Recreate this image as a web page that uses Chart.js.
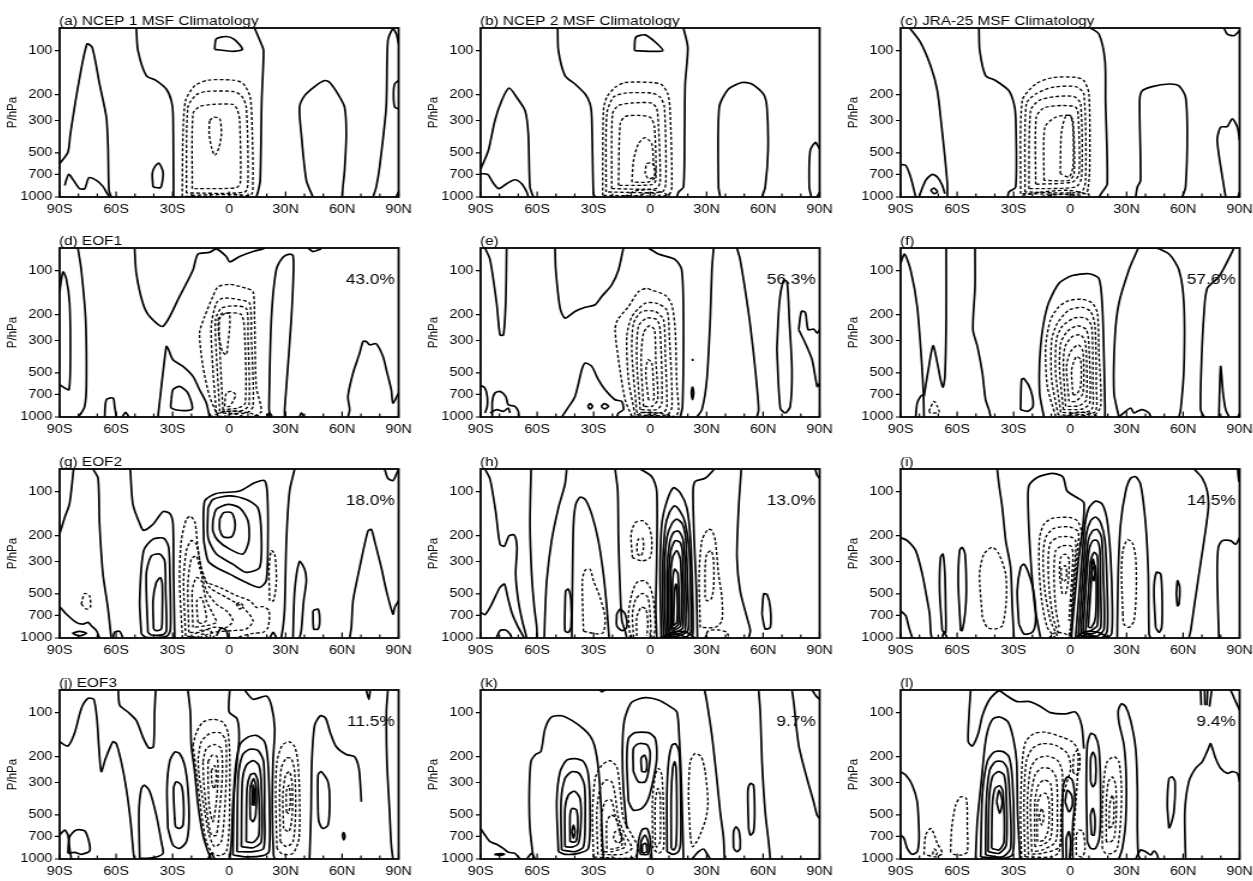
<!DOCTYPE html>
<html><head><meta charset="utf-8">
<script src="https://cdn.jsdelivr.net/npm/chart.js@4.4.1/dist/chart.umd.min.js"></script>
<style>
html,body{margin:0;padding:0;background:#fff;overflow:hidden;width:1253px;height:881px;}
.panel{position:absolute;transform-origin:0 0;transform:scaleX(1.2);}
canvas{display:block;}
</style></head><body>
<script>
// Axis ticks and labels
const latTicks = [-90, -60, -30, 0, 30, 60, 90];
const latLabels = ['90S', '60S', '30S', '0', '30N', '60N', '90N'];
const pressureTicks = [100, 200, 300, 500, 700, 1000];
const panelTitles = ['(a) NCEP 1 MSF Climatology', '(b) NCEP 2 MSF Climatology', '(c) JRA-25 MSF Climatology',
  '(d) EOF1', '(e)', '(f)', '(g) EOF2', '(h)', '(i)', '(j) EOF3', '(k)', '(l)'];
const explainedVariance = ['', '', '', '43.0%', '56.3%', '57.6%', '18.0%', '13.0%', '14.5%', '11.5%', '9.7%', '9.4%'];

// Contour lines as [latitude, pressure hPa] pairs; solid = positive/zero, dashed = negative
const aSolid = [
 [[-90,593],[-85.6,494],[-84.3,370],[-80.3,178],[-75.5,90],[-72.7,95],[-68.8,169],[-65.2,285],[-64.3,456],[-63.8,900],[-62.6,1000]],
 [[-87.3,833],[-85.2,700],[-82.6,770],[-79.4,877],[-76.7,877],[-74.4,738],[-70.5,770],[-67,846],[-64.9,939],[-63.5,1000]],
 [[-49.3,70],[-48.4,100],[-44,148],[-38.7,160],[-33.4,183],[-30.7,219],[-29.8,270],[-29.5,1000]],
 [[-40.4,855],[-40.8,693],[-39.6,624],[-37.3,587],[-35.1,675],[-35.5,790],[-36.5,864],[-40.4,855]],
 [[13.5,70],[17.1,90],[18.3,100],[17.3,219],[16.5,770],[15.3,924],[14.4,1000]],
 [[-7.7,98],[-6.8,83],[-1.5,80],[2.9,84],[7,98],[2,101],[-7.7,98]],
 [[44.5,1000],[41,770],[38.3,370],[37.4,243],[40.1,203],[45.4,176],[50.7,160],[53.4,165],[57.8,198],[61.3,243],[62.2,370],[61.3,658],[60.4,855],[60.1,1000]],
 [[76.4,1000],[78.1,855],[79.9,624],[83.4,243],[84.3,85],[87,71],[88.8,77],[90,90]],
 [[90,160],[87.9,169],[87.3,198],[87.9,243],[90,250]],
 [[88.5,1000],[90,924]]
];
const aDashed = [
 [[-24.9,990],[-24.5,370],[-23.1,219],[-18.3,174],[-11.2,159],[2,159],[7.3,167],[11.2,208],[12.3,370],[12.6,770],[11.2,974],[-24.9,990]],
 [[-22.7,939],[-21.9,243],[-17.4,200],[-12.1,190],[2,190],[6.5,203],[9.1,243],[10,770],[8.3,924],[-22.7,939]],
 [[-19.6,877],[-19.2,270],[-15.7,241],[-8.6,233],[2,233],[4.2,250],[5.6,300],[6,790],[3.8,864],[-17.4,877],[-19.6,877]],
 [[-10.4,300],[-8.2,285],[-5,292],[-4.1,370],[-5.3,456],[-7.6,520],[-9.4,456],[-10.6,370],[-10.4,300]],
 [[-20,975],[-5,960],[5,962],[10,985]]
];

const bSolid = [
 [[-90,650],[-89.5,624],[-85.9,481],[-82.4,300],[-78.8,219],[-74.9,180],[-70.9,208],[-66.4,257],[-64.7,370],[-63.8,855],[-62,1000]],
 [[-90,693],[-86.3,700],[-83.3,803],[-80.3,877],[-76.2,811],[-71.8,762],[-68.2,811],[-65.5,924],[-64.7,1000]],
 [[-49.1,70],[-48.7,100],[-45.2,148],[-39.9,169],[-34.5,198],[-31.9,231],[-31,285],[-30.1,949],[-29.2,1000]],
 [[17.7,70],[20,95],[18.6,169],[18.3,370],[17.7,855],[15.1,924],[14.2,1000]],
 [[-8.3,100],[-7.6,81],[-2.7,78],[3,88],[6.7,100],[0.9,101],[-8.3,100]],
 [[37.2,1000],[36.3,855],[36.7,243],[41.6,183],[48.7,165],[54,169],[60.2,198],[62,243],[62.6,481],[61.1,855],[59.4,1000]],
 [[85.6,1000],[84.5,855],[85,481],[87.7,424],[89.5,456],[90,470]],
 [[88.5,1000],[90,930]]
];
const bDashed = [
 [[-25.2,974],[-24.8,257],[-23,208],[-18.6,178],[-13.3,165],[0.9,165],[6.2,171],[9.4,198],[10.6,257],[11.5,855],[9.4,974],[-25.2,974]],
 [[-23.4,924],[-23,270],[-19.5,208],[-13.3,195],[0.9,195],[5.3,208],[7.6,243],[8.3,811],[6.2,924],[-23.4,924]],
 [[-20.4,877],[-20,270],[-16.8,237],[-9.7,228],[0.9,228],[3.5,250],[4.4,316],[5.3,790],[3,877],[-20.4,877]],
 [[-16.8,833],[-15.9,316],[-13.3,282],[-6.2,277],[0,285],[2.3,333],[3,770],[0.9,824],[-16.8,833]],
 [[-9.7,790],[-8.8,562],[-6.2,433],[-2.7,393],[0.9,433],[1.8,593],[2.7,731],[-0.9,790],[-9.7,790]],
 [[-2.7,693],[-1.8,593],[0.9,587],[3,640],[1.8,731],[-0.9,750],[-2.7,693]],
 [[-13.3,990],[-8,910],[0.9,891],[8,949],[9.8,990]],
 [[-8,990],[-0.9,939],[5.3,974]]
];

const cSolid = [
 [[-85.2,70],[-79.4,88],[-74.1,127],[-70.5,188],[-68.2,333],[-66.5,534],[-65.2,811],[-65.2,1000]],
 [[-90,599],[-87.3,608],[-84.7,731],[-82,1000]],
 [[-80.3,1000],[-76.7,770],[-73.2,700],[-70.5,731],[-67.9,833],[-66.5,949]],
 [[-74.1,900],[-72.3,868],[-70.5,924],[-72.3,949],[-74.1,900]],
 [[-48.4,70],[-48,100],[-44.9,148],[-39.6,160],[-32.5,188],[-29.8,231],[-28.9,285],[-28.9,855],[-32.5,924],[-33.2,1000]],
 [[10.9,70],[15.3,77],[18.5,117],[18.8,219],[19.7,811],[17.1,924],[15.3,1000]],
 [[34.8,1000],[35.7,855],[37.4,770],[36.9,219],[38.3,188],[43.6,176],[52.5,169],[57.8,174],[61.3,208],[62.2,370],[61.3,855],[59.6,1000]],
 [[82.6,1000],[81.7,855],[78.1,411],[79.9,333],[83.4,330],[86.1,292],[88.8,333],[90,411]],
 [[81.7,70],[83.4,77],[87,79],[90,73]],
 [[89.1,1000],[90,924]]
];
const cDashed = [
 [[-26.3,949],[-25.4,219],[-18.3,169],[-9.5,153],[2.9,152],[7.3,160],[10,198],[10.4,624],[9.6,855],[8.2,949],[-26.3,949]],
 [[-24,924],[-23.3,231],[-18.3,198],[-9.5,178],[2.9,176],[7.3,198],[8.2,770],[5.6,924],[-24,924]],
 [[-21.9,877],[-21,257],[-16.5,219],[-7.7,206],[2.1,206],[5.6,231],[6.1,731],[2.9,855],[-21.9,877]],
 [[-18.3,819],[-18,285],[-13.9,246],[-4.2,237],[2.9,243],[4.3,277],[4.7,693],[1.2,790],[-18.3,819]],
 [[-13.9,770],[-13.4,333],[-7.7,285],[-0.6,277],[1.5,300],[2.1,693],[-0.6,770],[-13.9,770]],
 [[-5.2,693],[-4.7,370],[-2.6,285],[0.1,277],[1.5,333],[1.5,624],[-0.6,731],[-5.2,693]],
 [[-25.4,974],[-14.8,924],[-0.6,900],[10,959]],
 [[-18.3,1000],[-3.9,959],[6.5,990]]
];

const dSolid = [
 [[-90,142],[-89.5,125],[-88.2,102],[-86.5,113],[-84.7,167],[-84.3,406],[-85,651],[-87.3,634],[-90,602]],
 [[-80.3,70],[-78.5,99],[-76.2,216],[-75.8,618],[-76.7,846],[-78.5,939],[-80.3,1000]],
 [[-66.1,1000],[-65.2,762],[-61.6,742],[-60.8,846],[-59.9,1000]],
 [[-56.7,1000],[-55,929],[-53.2,1000]],
 [[-50.2,70],[-49.3,104],[-45.8,167],[-42.2,206],[-35.1,240],[-26.3,150],[-19.2,99],[-16.5,77],[-10.4,75],[-6.8,71],[-1.5,80],[0.3,87],[5.6,80],[12.7,74],[18,71],[18.8,70]],
 [[-37.8,1000],[-33.4,330],[-32.5,339],[-29.8,406],[-24.5,451],[-19.2,528],[-15.7,651],[-12.1,803],[-10.4,1000]],
 [[-30.7,762],[-29.8,651],[-26.3,618],[-21.9,686],[-19.6,882],[-24.5,905],[-30.7,868],[-30.7,762]],
 [[21.5,1000],[21.2,846],[22.4,216],[25,99],[28.6,81],[32.1,77],[33.9,79],[34.2,99],[33,216],[30.4,618],[29.5,891],[29.5,1000]],
 [[19.7,1000],[21.5,935],[22.9,1000]],
 [[37.4,1000],[38.3,935],[39.8,1000]],
 [[63.1,1000],[64,891],[63.1,723],[65.8,500],[69.3,366],[71.1,305],[72.8,305],[74.6,321],[78.1,316],[81.7,386],[83.5,476],[86.1,651],[87,803],[90,686]],
 [[41.9,70],[44.5,74],[48.9,71]]
];
const dDashed = [
 [[-5.9,990],[-10.4,723],[-13.9,451],[-15.7,267],[-13,206],[-8.6,150],[-5.9,129],[0.3,124],[9.1,132],[12.7,139],[13.5,216],[14.4,618],[17.1,915],[12.7,990],[-5.9,990]],
 [[-6.8,939],[-8.6,476],[-9.5,240],[-6.8,167],[-3.3,154],[5.6,158],[10.9,167],[11.8,282],[12.7,846],[9.1,939],[-6.8,939]],
 [[-5,915],[-6.8,366],[-7.2,216],[-4.2,181],[2,174],[9.1,181],[10,282],[10.6,824],[7.3,900],[-5,915]],
 [[-3.3,891],[-5,330],[-5,212],[-1.5,195],[6.5,200],[8.3,282],[8.6,803],[4.7,868],[-3.3,891]],
 [[-5.9,216],[-3.6,195],[0,198],[0.3,240],[-0.6,313],[-1.5,376],[-3.6,356],[-5.4,282],[-5.9,216]],
 [[-2.4,846],[-1.5,686],[1.2,668],[3.5,704],[2,782],[0.3,846],[-2.4,846]],
 [[-10.4,1000],[-1.5,915],[9.1,929],[18,1000]],
 [[-3.3,1000],[2,949],[7.3,990]]
];

const eSolid = [
 [[-87.7,70],[-85,84],[-81.5,167],[-79.7,275],[-77.9,275],[-76.7,167],[-76.2,70]],
 [[-90,608],[-87.7,634],[-86.5,723],[-86.5,846],[-87.7,939]],
 [[-83.8,1000],[-83.8,782],[-82.4,686],[-79.7,668],[-76.7,723],[-75.3,824],[-71.8,846],[-70,915],[-69.6,1000]],
 [[-85,939],[-81.5,891],[-77.9,915],[-75.3,868],[-74.4,939]],
 [[-50.5,70],[-50.1,99],[-47.8,181],[-45.2,211],[-39.9,190],[-34.5,178],[-29.2,171],[-25.7,150],[-20.4,125],[-16.8,99],[-14.2,70]],
 [[-0.9,70],[4.4,77],[13.3,84],[16.8,99],[17.7,216],[17.2,846],[16,1000]],
 [[-46.9,1000],[-44.3,891],[-39.9,723],[-36.3,476],[-34.5,428],[-31,451],[-27.5,556],[-23.9,651],[-18.6,762],[-15.1,782],[-14.2,891],[-16.8,939],[-17.7,1000]],
 [[-33.1,846],[-31.9,811],[-30.6,846],[-31.9,882],[-33.1,846]],
 [[-26,846],[-24.3,811],[-22.1,846],[-24.3,882],[-26,846]],
 [[24.8,1000],[27.5,891],[30.1,556],[31.9,216],[32.8,99],[33.7,70]],
 [[46.1,70],[47.8,84],[52.3,195],[54.9,366],[56.7,618],[57.6,891],[56.7,1000]],
 [[67.3,344],[68.6,167],[70.9,116],[72.7,119],[73.9,216],[75.3,476],[74.4,846],[71.8,939],[69.1,868],[67.3,344]],
 [[78.9,253],[80.3,190],[82.4,193],[83.9,253],[86.9,251],[88.7,267],[90,253]],
 [[78.9,253],[82.4,313],[86,406],[88.7,618],[90,587]],
 [[22.5,620],[23.1,680],[22.5,760],[21.9,680],[22.5,620]],
 [[22.5,400],[22.6,414]]
];
const eDashed = [
 [[-9.7,990],[-13.3,762],[-16.8,406],[-18.6,253],[-17.2,216],[-11.5,176],[-6.2,139],[-1.8,132],[0.9,136],[8,147],[11.5,171],[13.3,253],[14.2,618],[15.1,891],[13.3,990],[-9.7,990]],
 [[-8,968],[-11.5,556],[-12.4,282],[-9.7,206],[-2.7,167],[3.5,167],[8.9,186],[10.2,282],[11.6,846],[8.9,968],[-8,968]],
 [[-7.1,929],[-9.7,366],[-8.8,229],[-4.4,190],[2.7,190],[7.1,216],[8,366],[8.9,846],[7.1,929],[-7.1,929]],
 [[-5.3,891],[-7.1,406],[-6.2,240],[-1.8,211],[3.5,216],[5.3,253],[6.2,803],[3.5,891],[-5.3,891]],
 [[-3.5,846],[-4.8,406],[-3.5,267],[-0.5,238],[2.3,253],[3,406],[4,762],[0.9,846],[-3.5,846]],
 [[-0.9,762],[-2.3,500],[-1.2,406],[0.9,428],[1.8,618],[1.8,762],[-0.9,762]],
 [[-9.7,1000],[-2.7,929],[6.2,949],[13.3,1000]],
 [[-4.4,1000],[0.9,959],[6.2,1000]]
];

const fSolid = [
 [[-90,89],[-87.9,77],[-84.7,99],[-81.2,176],[-78.8,428],[-77.9,686],[-77.6,1000]],
 [[-82,1000],[-81.2,803],[-79.4,723],[-78.1,704]],
 [[-77.6,723],[-75.3,476],[-72.8,326],[-70.5,428],[-68.8,556],[-67.5,624],[-66.5,528],[-65.8,216],[-65.8,70]],
 [[-50.5,70],[-50.5,129],[-51.6,253],[-49.2,330],[-46.6,500],[-44.9,762],[-43.1,891],[-42.2,1000]],
 [[-26.3,891],[-25.8,556],[-24.5,545],[-21,651],[-19.7,846],[-22.7,915],[-26.3,891]],
 [[-13.9,1000],[-16.2,686],[-15.7,330],[-12.1,176],[-5.9,122],[1.2,108],[10,105],[15.3,113],[17.1,176],[18,406],[18.5,846],[18.5,1000]],
 [[25.9,1000],[23.3,686],[23.8,282],[25.9,167],[31.2,99],[34.8,77],[36.6,70],[45.4,70],[52.5,77],[57.8,99],[60.4,167],[60.4,476],[58.7,891],[57.8,1000]],
 [[25.9,1000],[29.5,915],[32.1,868],[33.9,939],[35.7,915],[38.3,891],[41.9,939],[42.8,1000]],
 [[87,70],[84.4,82],[79,110],[72.8,132],[71.1,195],[69.8,406],[69.3,891],[71.1,1000]],
 [[79,1000],[79.9,451],[81.2,686],[82.6,891],[84.4,1000]],
 [[89,1000],[90,950]]
];
const fDashed = [
 [[-75,915],[-72.3,782],[-70.5,846],[-69.6,929],[-74,939],[-75,915]],
 [[-7.7,990],[-12.1,618],[-13,330],[-10.4,216],[-5.9,176],[-0.6,160],[6.5,157],[11.8,167],[14.5,195],[15.3,366],[16.2,846],[11.8,990],[-7.7,990]],
 [[-6.3,968],[-9.8,556],[-9.8,297],[-6.8,229],[-0.6,186],[6.5,178],[10.9,190],[13.2,240],[13.9,618],[13.5,915],[6.5,968],[-6.3,968]],
 [[-5,929],[-7.7,500],[-7.3,297],[-4.2,240],[2.1,211],[8.2,211],[11.4,240],[12.1,618],[11.4,891],[2.9,939],[-5,929]],
 [[-3.6,891],[-5.6,476],[-5,313],[-1.5,260],[3.8,238],[8.6,253],[10,330],[10.4,803],[6.5,882],[-3.6,891]],
 [[-2.4,846],[-3.6,451],[-2.7,330],[1.2,282],[5.6,275],[8.2,313],[8.6,762],[4.7,837],[-2.4,846]],
 [[-0.6,782],[-1.9,451],[0.3,356],[4.3,321],[6.8,356],[6.8,686],[2.9,782],[-0.6,782]],
 [[1.5,704],[0.8,476],[3.3,386],[5.6,406],[5.6,618],[3.3,704],[1.5,704]],
 [[-2.4,1000],[2.9,929],[10,939],[15.3,1000]],
 [[0.3,1000],[4.7,959],[10,1000]]
];

const gSolid = [
 [[-90,195],[-87.3,150],[-84.7,120],[-82.6,70]],
 [[-72.3,70],[-69.6,81],[-68.8,167],[-67,366],[-64.4,618],[-62.6,1000]],
 [[-90,611],[-86.5,686],[-81.2,782],[-77.6,803],[-74.9,782],[-73.2,824],[-70.5,891],[-68.8,1000]],
 [[-83.3,929],[-79.4,900],[-75.8,929],[-79.4,968],[-83.3,929]],
 [[-61.7,1000],[-60.8,915],[-58.1,900],[-56.4,1000]],
 [[-52.5,70],[-51.1,122],[-47.5,165],[-45.4,184],[-40.4,167],[-35.1,137],[-31.5,141],[-29.8,167],[-29.5,366],[-28.9,1000]],
 [[-46.6,939],[-47.5,562],[-45.4,253],[-40.4,211],[-34.7,208],[-32.1,240],[-31.4,406],[-31.2,880],[-33.3,975],[-44,990],[-46.6,939]],
 [[-43.1,915],[-44,366],[-41.3,275],[-36.9,267],[-34.2,297],[-33.7,476],[-33.3,891],[-35.1,949],[-41.3,954],[-43.1,915]],
 [[-40.1,868],[-40.4,556],[-38.7,418],[-36.5,386],[-35.5,428],[-35.5,686],[-36,868],[-38.7,891],[-40.1,868]],
 [[-13.5,216],[-13,116],[-6.8,103],[5.6,99],[13.5,87],[18.8,84],[20.3,104],[20.6,216],[19.7,406],[16.2,451],[9.1,418],[0.3,366],[-6.8,330],[-11.2,297],[-13.5,216]],
 [[-11.2,129],[-8.6,113],[0.3,107],[9.1,113],[15.3,129],[17.1,195],[16.2,330],[9.1,356],[2,313],[-6.8,267],[-11.2,206],[-11.2,129]],
 [[-8.6,158],[-6.8,132],[-0.6,122],[5.6,129],[10,158],[10.5,216],[7.3,267],[0.3,247],[-5.9,216],[-8.6,186],[-8.6,158]],
 [[-5,154],[-2.9,139],[1.2,139],[3,158],[3,181],[1.2,204],[-2.9,204],[-5,181],[-5,154]],
 [[-6.8,968],[-4.2,855],[-1.5,891],[-0.6,990]],
 [[34.8,70],[32.1,99],[30.4,216],[29.5,618],[28.6,846],[27.7,990]],
 [[33.9,1000],[34.8,476],[37.4,300],[40.1,339],[41,406],[39.6,556],[38.3,891],[37.4,1000]],
 [[44.5,651],[47.2,634],[48.1,762],[47.2,868],[44.9,868],[44.5,651]],
 [[64,1000],[64.9,846],[65.8,556],[69.3,330],[73.7,186],[75.5,181],[77.2,216],[80.8,330],[83.5,476],[87,686],[87.9,618],[90,556]],
 [[82.6,70],[84.3,81],[87,84],[90,70]],
 [[21.6,1000],[23.4,915],[25.2,1000]]
];
const gDashed = [
 [[-78.5,587],[-76.7,496],[-74.1,514],[-73.7,618],[-75.8,634],[-78.5,587]],
 [[-24.8,1000],[-26.3,406],[-25.4,216],[-22.7,154],[-20.5,147],[-18.1,163],[-16.4,253],[-12.8,406],[-4.9,451],[4,514],[11,556],[14.5,618],[18,611],[21.2,651],[20.7,846],[18,915],[12.7,929],[5.6,979],[2,1000]],
 [[-23.1,968],[-24.2,406],[-22.7,253],[-20.1,216],[-17.4,229],[-14.8,330],[-10.4,451],[-1.5,528],[7.3,618],[12.7,762],[9.1,868],[2,891],[-8.6,915],[-15.7,990],[-23.1,968]],
 [[-21.4,915],[-21.9,428],[-20.1,289],[-17.4,275],[-15.7,330],[-12.1,476],[-6.8,587],[-1.5,651],[2,762],[-1.5,846],[-8.6,846],[-15.7,915],[-21.4,915]],
 [[-19.2,846],[-19.6,476],[-17.4,386],[-14.8,406],[-12.1,556],[-8.6,686],[-6.8,782],[-12.1,824],[-19.2,846]],
 [[-16.6,782],[-17.1,556],[-14.8,528],[-13,618],[-12.1,762],[-14.8,794],[-16.6,782]],
 [[3.8,587],[5.6,571],[7.3,602],[5.6,634],[3.8,587]],
 [[21.5,556],[21.2,330],[22.4,253],[24.2,267],[25.1,406],[23.6,556],[21.5,556]],
 [[-20.1,1000],[-15.7,891],[-10.4,882],[-7.7,1000]],
 [[-17.4,1000],[-13.9,939],[-11.2,1000]]
];

const hSolid = [
 [[-87.7,70],[-85,82],[-82,137],[-79.7,229],[-77.4,236],[-74.9,200],[-72.1,198],[-70.7,240],[-71.4,366],[-70,556],[-67.9,762],[-65.5,1000]],
 [[-90,668],[-87.7,693],[-85,618],[-82.4,528],[-79.7,451],[-77.4,428],[-75.6,528],[-73.2,686],[-70,846],[-66.8,1000]],
 [[-81.5,990],[-79.7,891],[-76.7,882],[-74.4,939],[-73.5,1000]],
 [[-63.2,70],[-63.8,167],[-62.9,366],[-61.5,618],[-60.2,846],[-60.2,1000]],
 [[-44.3,70],[-45.2,89],[-48.7,129],[-52.3,216],[-54.9,406],[-55.8,686],[-56.2,1000]],
 [[-41.6,1000],[-41.2,366],[-40.7,167],[-39.5,122],[-37.2,109],[-34.5,113],[-31,143],[-27.5,216],[-24.8,366],[-23,618],[-22.1,891],[-21.8,1000]],
 [[-45.2,618],[-44.8,476],[-43.4,464],[-42,556],[-42,846],[-43.4,915],[-45.2,891],[-45.2,618]],
 [[-18.6,70],[-17.2,99],[-16.8,216],[-15.9,476],[-15,762],[-13.3,891],[-12.4,1000]],
 [[-17.7,686],[-15.9,634],[-13.3,686],[-12.4,846],[-15,891],[-17.7,824],[-17.7,686]],
 [[-5.3,70],[0.9,79],[3.5,99],[3.5,282],[3,618],[3.5,1000]],
 [[5.9,1000],[5.3,366],[6.2,167],[8.9,116],[12.4,94],[16,102],[19.5,129],[21.5,216],[22.5,476],[22.8,891],[22.3,1000]],
 [[7.1,990],[6.6,366],[8,176],[10.2,139],[13,125],[16,137],[18.6,163],[20.8,253],[21.6,528],[21.6,915],[18.6,990],[7.1,990]],
 [[8.3,968],[7.6,366],[8.9,206],[11.6,165],[14.2,154],[17.2,167],[19,216],[20.1,528],[20.1,891],[15.1,968],[8.3,968]],
 [[9.4,939],[8.9,366],[10.2,229],[12.4,190],[15.1,186],[17.4,211],[18.6,330],[18.6,891],[14.2,939],[9.4,939]],
 [[10.1,915],[9.8,406],[11,253],[13.3,216],[16,223],[17.2,267],[17.4,846],[13.3,915],[10.1,915]],
 [[11.2,891],[10.8,406],[11.9,282],[14.2,253],[16.2,297],[16.2,824],[12.4,891],[11.2,891]],
 [[11.9,868],[11.9,428],[13,339],[14.8,366],[15.1,803],[12.4,868],[11.9,868]],
 [[12.4,824],[13,476],[13.7,428],[14.4,500],[14.2,782],[12.4,824]],
 [[5.9,1000],[11.6,915],[18.6,905],[23.9,1000]],
 [[7.1,1000],[13.3,939],[20.4,1000]],
 [[34.2,70],[29.2,81],[24,85],[22.8,99],[23.4,216],[24.6,476],[25.1,1000]],
 [[48.4,70],[47,129],[46.1,282],[47.8,476],[51.4,723],[53.2,891],[52.3,1000]],
 [[59.4,686],[60.3,500],[62.1,505],[63.8,618],[63.8,846],[61.1,868],[59.4,686]],
 [[87.7,70],[88.6,77],[90,81]]
];
const hDashed = [
 [[-9.4,282],[-10.1,195],[-7.9,163],[-4,158],[-0.5,176],[0.9,216],[0,282],[-4.4,297],[-9.4,282]],
 [[-7.1,235],[-6.2,211],[-4,208],[-3.5,240],[-4.8,275],[-6.6,267],[-7.1,235]],
 [[-10.6,1000],[-11.5,686],[-9.7,500],[-7.1,418],[-3,406],[0,451],[1.8,556],[2.7,846],[1.8,1000]],
 [[-8.8,990],[-9.4,686],[-7.6,542],[-4,496],[-1.2,528],[0,686],[0.5,990]],
 [[-7.1,968],[-7.1,723],[-4.8,618],[-2.3,634],[-1.2,803],[-1.8,968]],
 [[-35.4,900],[-36,406],[-34.5,344],[-31.9,339],[-30.1,406],[-26.6,528],[-23.9,723],[-24.8,915],[-27.5,939],[-35.4,900]],
 [[26.6,846],[26,366],[27.5,216],[30.7,181],[32.8,184],[34.6,216],[36.3,366],[38.1,528],[38.1,762],[34.6,846],[26.6,846]],
 [[29.2,528],[29.2,330],[30.1,267],[32.4,253],[33.7,297],[33.7,451],[32.4,542],[30.1,556],[29.2,528]],
 [[29.2,1000],[31,891],[36.3,882],[40.8,915],[41.7,1000]]
];

const iSolid = [
 [[-90,206],[-86.5,216],[-82,253],[-78.5,366],[-75.8,556],[-74.6,686],[-74,915],[-73.5,1000]],
 [[-90,651],[-87.3,704],[-85.6,846],[-83.8,1000]],
 [[-67.9,891],[-69.3,476],[-68.8,282],[-67.5,267],[-66.5,366],[-66.1,618],[-66.1,915],[-67.9,891]],
 [[-58.1,891],[-59.4,428],[-58.7,253],[-57.3,240],[-55.8,267],[-55.1,476],[-55.8,686],[-57.3,891],[-58.1,891]],
 [[-67.9,1000],[-67,915],[-65.2,1000]],
 [[-38.7,70],[-37.8,89],[-36,129],[-34.2,216],[-31.6,330],[-30.7,618],[-29.8,1000]],
 [[-27.2,803],[-28.1,476],[-26.3,330],[-24.5,313],[-21.9,366],[-19.2,500],[-18.3,762],[-20.1,915],[-24.5,939],[-27.2,803]],
 [[-15.7,1000],[-18.7,618],[-21,282],[-22.3,129],[-21.9,91],[-17.5,80],[-9.6,75],[-3.9,79],[-1.6,99],[3.8,110],[7.3,119],[6.7,176],[4.6,282],[2.8,476],[1.1,846],[0.7,1000]],
 [[2.9,1000],[5.6,366],[7.9,167],[10,129],[13.5,116],[17.1,122],[19.7,158],[21.5,282],[22.4,618],[22,939],[19.7,1000]],
 [[4.3,990],[6.8,366],[8.6,195],[10.9,158],[13.5,149],[16.2,163],[18.5,216],[19.7,476],[19.7,891],[17.1,990],[4.3,990]],
 [[5.6,968],[7.9,366],[9.6,216],[11.8,186],[14.4,181],[16.7,206],[17.6,366],[18,868],[14.4,968],[5.6,968]],
 [[6.8,939],[8.6,406],[10,253],[12.1,216],[14.4,216],[15.8,253],[16.2,476],[16.2,846],[12.7,929],[6.8,939]],
 [[8.2,915],[10,428],[10.9,297],[12.7,260],[14.4,275],[15,476],[14.4,824],[10.9,891],[8.2,915]],
 [[9.6,846],[10.9,476],[11.8,344],[13.2,321],[13.9,406],[13.5,723],[11.4,846],[9.6,846]],
 [[11.4,366],[12.1,289],[13.2,330],[12.7,406],[11.4,366]],
 [[2.9,1000],[8.2,905],[15,915],[20.5,1000]],
 [[4.5,1000],[9.5,940],[15,1000]],
 [[25,1000],[25.5,366],[26.8,167],[29.5,99],[32.1,81],[34.8,79],[37.4,89],[40.1,167],[41.5,366],[41.9,939],[42.7,1000]],
 [[45.4,846],[44.5,476],[45.8,356],[48.1,366],[48.9,556],[48.6,846],[47.2,915],[45.4,846]],
 [[56.4,500],[57,406],[58.2,451],[57.8,587],[57,602],[56.4,500]],
 [[65.8,70],[70.2,81],[72.8,99],[73.4,129],[71.1,216],[68.4,366],[65.8,618],[64,891],[63.1,1000]],
 [[79,1000],[78.1,366],[78.7,240],[80.8,216],[85.2,216],[87.9,229],[90,206]],
 [[89,70],[89.5,85],[90,70]]
];
const iDashed = [
 [[-7.7,1000],[-12.1,846],[-15.1,556],[-16.5,330],[-16.2,206],[-13.9,167],[-9.5,152],[-0.6,150],[3.8,158],[6.1,190],[4.3,282],[2,476],[0.8,846],[0.3,1000]],
 [[-6.8,968],[-10.4,762],[-13.4,476],[-14.4,282],[-13,206],[-8.6,178],[-0.6,174],[4.3,188],[3.8,253],[2,406],[0.8,762],[-0.6,968]],
 [[-6.3,929],[-9.1,723],[-11.2,451],[-11.6,282],[-10.4,223],[-5.9,204],[0.3,204],[2.9,216],[2.6,297],[1.2,476],[0.3,891]],
 [[-5.9,846],[-7.7,618],[-8.6,366],[-7.7,253],[-4.5,235],[0.3,235],[1.5,267],[0.8,406],[-0.6,762]],
 [[-4.2,500],[-5.6,366],[-5,282],[-2.7,267],[-0.6,289],[-1,406],[-2.4,496],[-4.2,500]],
 [[-4.2,406],[-4.8,340],[-2.7,320],[-1.8,360],[-2.7,406],[-4.2,406]],
 [[-11.2,1000],[-7.7,915],[-2.4,939],[-0.6,1000]],
 [[-46.6,723],[-48.1,366],[-45.8,267],[-41.3,240],[-37.8,267],[-34.2,366],[-33.9,556],[-36,824],[-39.6,868],[-44,846],[-46.6,723]],
 [[28,686],[27.3,366],[28,253],[30.4,213],[33,223],[34.8,282],[35.1,476],[33.9,762],[31.2,846],[28.5,803],[28,686]]
];

const jSolid = [
 [[-90,158],[-85.6,169],[-82,137],[-78.5,94],[-75,80],[-71.9,81],[-70.2,110],[-69.1,176],[-67.9,253],[-65.6,206],[-61.7,158],[-59.9,163],[-57.3,216],[-54.6,330],[-52.3,556],[-50.7,939],[-50.2,1000]],
 [[-58.9,70],[-58.1,89],[-53.7,99],[-49.3,113],[-45.8,147],[-42.7,174],[-40.2,171],[-39.6,99],[-39,70]],
 [[-47.5,990],[-47.9,476],[-46.6,330],[-44.9,313],[-42.2,344],[-38.7,500],[-36,762],[-35.1,915],[-38.7,968],[-44,990],[-47.5,990]],
 [[-32.5,618],[-33,330],[-31.6,216],[-28.9,186],[-26.3,190],[-23.6,229],[-21.9,330],[-21.3,556],[-22.7,762],[-26.3,846],[-29.8,803],[-32.5,618]],
 [[-28.9,528],[-29.5,330],[-28.1,297],[-25.4,313],[-24.2,406],[-24.5,587],[-26.3,618],[-28.4,602],[-28.9,528]],
 [[-85.6,915],[-84.7,704],[-81.2,634],[-76.7,643],[-74.4,762],[-74.1,882],[-78.5,929],[-82,900],[-85.6,915]],
 [[-90,686],[-87.3,634],[-85.6,686],[-84.7,846],[-83.8,1000]],
 [[-21.9,70],[-20.6,99],[-20.1,167],[-18.3,253],[-16.5,428],[-13.9,686],[-11.2,891],[-9.5,1000]],
 [[0.3,70],[0,99],[4.2,110],[5.3,150],[3.8,240],[2,428],[1.2,762],[0.3,1000]],
 [[8.2,70],[12.7,81],[19.7,77],[22.4,89],[24.2,129],[23.3,216],[22.9,476],[23.6,939],[24.2,1000]],
 [[2,939],[2.9,282],[5.6,167],[10,147],[14.4,143],[18.8,158],[20.6,216],[21.5,476],[21.2,891],[18,949],[9.1,968],[2,939]],
 [[4.2,891],[4.8,282],[7.1,195],[10.9,178],[15.3,181],[18.3,216],[18.8,476],[18.3,846],[12.7,891],[4.2,891]],
 [[6.5,824],[7,297],[9.1,229],[12.7,213],[15.8,229],[17.1,313],[17.1,762],[12.7,837],[6.5,824]],
 [[9.1,762],[9.5,330],[11.2,267],[13.5,260],[15.3,297],[15.8,686],[12.7,770],[9.1,762]],
 [[11.2,528],[11.2,330],[13,282],[14.4,330],[14.1,500],[12.7,556],[11.2,528]],
 [[12.3,428],[12.7,313],[13.5,344],[13.2,428],[12.3,428]],
 [[42.7,1000],[43.5,476],[43.9,216],[45.4,122],[48.4,105],[51.2,109],[53.7,137],[56.9,171],[62.2,193],[66.6,200],[68.9,240],[69.8,330],[70.2,406]],
 [[72.8,70],[74.2,81],[74.9,70]],
 [[84.3,70],[83.5,99],[83.8,216],[85.2,476],[86.1,803],[87,1000]],
 [[47.2,476],[47.2,267],[48.9,253],[52.5,297],[53.4,406],[52.5,587],[49.8,618],[47.7,556],[47.2,476]],
 [[60.1,686],[60.8,660],[61.5,700],[60.8,740],[60.1,686]],
 [[-11.2,1000],[-9.5,915],[-7.7,1000]]
];
const jDashed = [
 [[-19.2,167],[-17.4,137],[-13.9,116],[-8.6,111],[-3.3,116],[-0.6,137],[0.3,195],[0.3,366],[0,618],[-1.5,891],[-5,949],[-8.6,915],[-12.1,762],[-14.8,476],[-17.4,253],[-19.2,167]],
 [[-16.5,206],[-14.8,158],[-10.4,139],[-5,137],[-1.9,154],[-1.5,253],[-2.4,476],[-4.2,762],[-7.7,824],[-10.6,686],[-13.5,428],[-16,267],[-16.5,206]],
 [[-13.9,216],[-12.1,176],[-7.7,165],[-4.2,176],[-3.6,267],[-5,451],[-6.8,686],[-9.5,686],[-11.8,476],[-13.5,297],[-13.9,216]],
 [[-11.2,216],[-8.9,195],[-6.4,200],[-5.9,282],[-6.8,406],[-8.6,556],[-10.4,451],[-11.2,297],[-11.2,216]],
 [[-9.5,250],[-7.7,230],[-6.8,270],[-7.7,330],[-9,310],[-9.5,250]],
 [[25.4,846],[24.7,366],[25.4,216],[28.2,167],[31.8,158],[34.8,171],[36.5,216],[37.4,366],[37.1,723],[33.9,915],[28.5,929],[25.4,846]],
 [[27.2,762],[26.8,366],[27.7,240],[30.4,204],[33,206],[34.8,253],[35.3,476],[33.9,762],[30.4,824],[27.2,762]],
 [[28.9,618],[28.5,366],[30,267],[32.1,253],[33.5,313],[33.5,500],[31.8,651],[28.9,618]],
 [[30.4,476],[30.4,344],[31.8,313],[32.5,406],[31.5,488],[30.4,476]]
];

const kSolid = [
 [[-90,618],[-87.7,686],[-85,762],[-81.5,794],[-78,846],[-75.3,900],[-71.8,915],[-69.1,1000]],
 [[-82.7,929],[-79.7,920],[-77.4,929],[-79.7,945],[-82.7,929]],
 [[-65.5,1000],[-62.9,915],[-61.1,1000]],
 [[-62,1000],[-63.8,618],[-64.2,366],[-63.3,216],[-60.8,193],[-58,184],[-55.8,129],[-52.3,107],[-46.9,105],[-41.6,113],[-35.4,129],[-31.9,144],[-29.6,167],[-27.5,240],[-26.1,428],[-25.3,762],[-24.8,1000]],
 [[-48.7,891],[-49.6,406],[-47.8,253],[-44.3,211],[-39.9,206],[-35.4,216],[-32.8,267],[-31.9,476],[-32.8,846],[-38.1,915],[-45.2,929],[-48.7,891]],
 [[-47,868],[-47.3,406],[-45.2,282],[-41.6,253],[-37.7,260],[-34.9,313],[-34.5,528],[-35.4,824],[-39.9,891],[-47,868]],
 [[-45.2,824],[-45.2,451],[-43.4,366],[-40.2,344],[-37.2,386],[-36.7,556],[-38.1,782],[-41.6,829],[-45.2,824]],
 [[-42.5,762],[-42.5,500],[-41.3,451],[-39,464],[-38.4,618],[-39.5,762],[-42.5,762]],
 [[-41.6,651],[-40.7,587],[-39.9,651],[-40.7,723],[-41.6,651]],
 [[-12.4,618],[-14.2,330],[-14.7,176],[-13.7,113],[-9.8,85],[-2.7,79],[4.4,82],[10.6,91],[14.2,99],[15.4,143],[16.5,282],[17.2,556],[17.7,1000]],
 [[-11.5,406],[-12.4,216],[-11.5,150],[-8,137],[-0.9,137],[2.7,150],[3.5,206],[1.8,282],[-0.9,386],[-4.4,451],[-8.9,464],[-11.5,406]],
 [[-8.9,253],[-8.9,176],[-6.2,163],[-1.8,165],[0,186],[-0.9,253],[-2.7,297],[-6.2,297],[-8.9,253]],
 [[-4.4,253],[-4.8,206],[-3,195],[-1.8,216],[-2.3,253],[-4.4,253]],
 [[9,891],[8.9,366],[9.8,216],[11.6,167],[13.5,163],[15.4,186],[16.2,366],[16.2,762],[15,891],[12,929],[9,891]],
 [[11.2,846],[11.2,366],[12,240],[13,216],[13.8,240],[14.2,476],[13.8,803],[12.5,868],[11.2,846]],
 [[-7.1,1000],[-6.2,762],[-4.4,634],[-1.8,618],[0,723],[0.9,1000]],
 [[-5.3,929],[-4.8,762],[-2.7,686],[-0.9,782],[-1.2,929],[-5.3,929]],
 [[-4.1,915],[-4.1,803],[-2.3,782],[-1.8,891],[-4.1,915]],
 [[22.2,1000],[25.7,891],[28.4,855],[30.1,915],[31.9,1000]],
 [[28.9,70],[30.1,84],[32.8,143],[35.4,282],[37.2,476],[39,723],[39.5,1000]],
 [[44.3,846],[44.3,651],[45.6,602],[47.3,651],[47.8,846],[46.1,891],[44.3,846]],
 [[52.3,618],[51.9,344],[53.2,305],[54.9,313],[55.5,476],[54.9,651],[53.2,686],[52.3,618]],
 [[57.6,70],[58.5,99],[59.4,216],[61.1,476],[62.9,762],[63.8,1000]],
 [[75.3,70],[76.2,84],[78.9,167],[83.3,282],[86.8,406],[88.6,500],[90,528]],
 [[86,70],[88.1,77],[90,81]],
 [[-26.6,70],[-25.7,72],[-23.9,70]]
];
const kDashed = [
 [[-30.1,968],[-30.6,476],[-29.2,282],[-25.7,229],[-21.3,213],[-17.7,235],[-15.9,344],[-14.2,528],[-9.7,686],[-6.2,846],[-8,968],[-16.6,990],[-30.1,968]],
 [[-27.8,929],[-28.3,476],[-26.6,330],[-23.6,289],[-20.4,297],[-18.6,366],[-16.8,528],[-13.3,686],[-9.7,846],[-15,929],[-27.8,929]],
 [[-25.7,891],[-26,528],[-23.9,406],[-20.7,395],[-18.6,500],[-15,686],[-13.3,824],[-20.4,891],[-25.7,891]],
 [[-23,846],[-23,556],[-20.7,500],[-18.2,528],[-15.9,686],[-15,803],[-19.5,855],[-23,846]],
 [[-19.5,723],[-18.6,651],[-15.9,658],[-15,742],[-17.1,782],[-19.5,723]],
 [[1.5,846],[1.2,406],[2.7,267],[4.4,240],[6.2,267],[7.1,476],[7.1,846],[4.4,915],[1.5,846]],
 [[2.7,803],[2.7,406],[4.1,330],[5.3,366],[5.3,760],[3.5,829],[2.7,803]],
 [[21.3,686],[20.4,366],[21.3,216],[23.9,190],[27.1,200],[29.2,253],[30.7,406],[29.6,528],[25.7,723],[22.5,824],[21.3,686]]
];

const lSolid = [
 [[-90,253],[-87.3,267],[-83.8,313],[-81.2,406],[-80.3,618],[-80.3,762],[-81.2,891],[-83.8,929],[-86.5,846],[-88.2,723],[-90,686]],
 [[-52.8,70],[-53.7,105],[-54.1,158],[-51.9,169],[-48.8,139],[-46.6,105],[-42.7,81],[-37.8,71],[-33.4,77],[-28.1,84],[-21.5,84],[-16.2,90],[-10.4,100],[-2.4,102],[2.9,99],[6.1,122],[7.3,176]],
 [[-50.2,1000],[-49.3,556],[-47,282],[-45.2,167],[-43.5,129],[-40.9,110],[-37.3,107],[-32.9,116],[-30.2,150],[-28.4,216],[-27.9,476],[-26.6,1000]],
 [[-47.5,968],[-46.6,366],[-44,216],[-40.4,186],[-36,184],[-32.5,200],[-30.7,282],[-29.8,618],[-30.7,939],[-36,990],[-47.5,968]],
 [[-44.9,939],[-44.5,406],[-42.7,247],[-39.6,216],[-36,216],[-33.4,240],[-32.1,366],[-31.6,846],[-36,968],[-44.9,939]],
 [[-43.5,891],[-43.1,406],[-41.3,275],[-38.1,253],[-35.1,267],[-33.9,366],[-33.9,803],[-37.8,915],[-43.5,891]],
 [[-41.7,846],[-41.3,428],[-39.9,330],[-37.4,316],[-35.7,344],[-35.1,762],[-37.8,868],[-41.7,846]],
 [[-39,406],[-37.8,339],[-36,406],[-37.4,488],[-39,406]],
 [[-3.8,990],[-4.2,556],[-3.6,313],[-1.5,275],[1.2,289],[2.6,406],[1.5,556],[1.2,846],[1.5,1000]],
 [[-2.7,406],[-1.5,339],[0.8,366],[1.2,428],[-0.6,476],[-2.7,406]],
 [[-2,990],[-2,723],[-0.6,651],[0.3,762],[-0.3,990]],
 [[9.1,762],[8.6,330],[9.1,167],[10.9,139],[13.2,143],[15.3,176],[16.2,366],[15.7,686],[13.5,846],[10.9,846],[9.1,762]],
 [[10.9,297],[10.9,206],[12.1,186],[13.5,206],[13.5,297],[12.1,321],[10.9,297]],
 [[11.4,686],[10.9,500],[12.1,451],[13.2,528],[12.7,686],[11.4,686]],
 [[25.9,1000],[27.7,846],[29.5,556],[29.8,282],[28.6,167],[25.9,116],[25.6,96],[27.3,87],[29.5,91],[32.1,113],[34.8,176],[35.7,330],[35.7,618],[36.2,939],[37.4,1000]],
 [[34.8,1000],[37.4,868],[40.1,891],[42.8,939],[44.5,882],[46.3,939],[46.8,1000]],
 [[52.5,618],[51.6,428],[52.5,282],[54.2,275],[55.7,297],[55.1,476],[53.4,587],[52.5,618]],
 [[61.3,1000],[60.9,476],[63,297],[66.6,240],[70.2,216],[73.4,176],[74.6,163],[77.3,206],[79.9,240],[83.5,260],[86.1,253],[88.8,260],[90,297]],
 [[69.3,70],[69.6,89]],
 [[71.4,70],[71.6,89]],
 [[73,70],[72.6,89]],
 [[75.2,70],[74,91]],
 [[85.2,70],[87.9,84],[90,96]]
];
const lDashed = [
 [[-77.6,929],[-76.7,686],[-74.1,618],[-72.8,651],[-70.5,782],[-67.9,915],[-71.5,968],[-77.6,929]],
 [[-73,929],[-72.2,855],[-70.5,900],[-71.4,939],[-73,929]],
 [[-63.5,891],[-62.9,618],[-60.8,428],[-58.1,376],[-55.1,386],[-54.6,618],[-54.6,891],[-57.3,939],[-61.7,929],[-63.5,891]],
 [[-25.8,1000],[-26.3,476],[-25.4,216],[-23.6,158],[-19.2,139],[-13,136],[-4.2,147],[1.1,158],[3.8,176],[4.3,216],[3.3,366],[2,618],[1.1,1000]],
 [[-24,968],[-24.5,406],[-23.3,216],[-20.1,176],[-14.8,163],[-7.7,167],[-1.5,190],[0.3,240],[-4.5,400],[-5,700],[-6,900],[-10,968],[-24,968]],
 [[-22.2,929],[-22.7,406],[-21,240],[-17.4,206],[-12.1,198],[-6.8,211],[-4.2,253],[-4.2,476],[-5.6,824],[-14.8,915],[-22.2,929]],
 [[-20.4,891],[-21,406],[-18.7,267],[-14.8,238],[-10.4,243],[-7.3,282],[-6.8,476],[-7.7,762],[-14.8,868],[-20.4,891]],
 [[-18.7,824],[-18.7,406],[-16.9,313],[-13.9,289],[-10.4,305],[-9.5,476],[-10.4,723],[-14.8,803],[-18.7,824]],
 [[-17.4,762],[-17.4,428],[-15.7,366],[-13,356],[-11.2,406],[-11.5,618],[-13.9,742],[-17.4,762]],
 [[-16.5,514],[-15.1,451],[-13.9,514],[-15.1,587],[-16.5,514]],
 [[1.5,253],[2,195],[3.8,181],[5.2,200],[4.7,253],[2.9,267],[1.5,253]],
 [[3.3,939],[3.3,686],[4.7,634],[6.8,651],[7.9,846],[6.5,968],[3.3,939]],
 [[17.1,846],[17.1,476],[18,282],[19.7,216],[23.3,200],[25.9,216],[27.3,330],[26.8,556],[25,846],[22.3,915],[18.8,915],[17.1,846]],
 [[19.2,762],[19.2,406],[20.3,297],[22.4,275],[24.2,313],[24.5,500],[23.3,723],[21,770],[19.2,762]],
 [[20.6,618],[21,428],[22.4,366],[23.3,428],[22.7,587],[20.6,618]]
];

const panelSolid = [aSolid, bSolid, cSolid, dSolid, eSolid, fSolid, gSolid, hSolid, iSolid, jSolid, kSolid, lSolid];
const panelDashed = [aDashed, bDashed, cDashed, dDashed, eDashed, fDashed, gDashed, hDashed, iDashed, jDashed, kDashed, lDashed];

// Page layout (pixels); the figure is drawn slightly wide, so each canvas is stretched horizontally
const STRETCH = 1.2;
const colPlotLeft = [60, 480.5, 901];
const rowPlotTop = [28, 248.3, 469.3, 690.3];
const AXIS_W = 48, PAD_R = 18.5, PAD_T = 26, AXIS_H = 24, PLOT_H = 169;
const CANVAS_W = 349, CANVAS_H = PAD_T + PLOT_H + AXIS_H;
const FONT = '"Liberation Sans", Arial, Helvetica, sans-serif';

const frameAndLabels = {
  id: 'frameAndLabels',
  afterDatasetsDraw(chart, args, opts) {
    const { ctx, chartArea: a, scales: { x, y } } = chart;
    ctx.save();
    ctx.strokeStyle = '#000';
    ctx.lineWidth = 1.8;
    ctx.strokeRect(a.left, a.top, a.right - a.left, a.bottom - a.top);
    ctx.lineWidth = 1.2;
    ctx.beginPath();
    for (let v = -90; v <= 90; v += 10) {
      const px = x.getPixelForValue(v);
      const len = v % 30 === 0 ? 5.5 : 3.5;
      ctx.moveTo(px, a.bottom);
      ctx.lineTo(px, a.bottom - len);
    }
    for (const p of pressureTicks) {
      const py = y.getPixelForValue(p);
      ctx.moveTo(a.left, py);
      ctx.lineTo(a.left - 4, py);
    }
    ctx.stroke();
    ctx.fillStyle = '#000';
    ctx.textAlign = 'left';
    ctx.textBaseline = 'alphabetic';
    ctx.font = '12.8px ' + FONT;
    ctx.fillText(opts.title, a.left - 0.6, a.top - 3.5);
    if (opts.pct) {
      ctx.textAlign = 'right';
      ctx.font = '14.4px ' + FONT;
      ctx.fillText(opts.pct, a.right - 3.3, a.top + 36);
    }
    ctx.save();
    ctx.translate(8.6, (a.top + a.bottom) / 2);
    ctx.rotate(-Math.PI / 2);
    ctx.textAlign = 'center';
    ctx.textBaseline = 'middle';
    ctx.font = '11.5px ' + FONT;
    ctx.fillText('P/hPa', 0, 0);
    ctx.restore();
    ctx.restore();
  }
};

function toPoints(line) { return line.map(([lat, p]) => ({ x: lat, y: p })); }

function buildDatasets(solid, dashed) {
  const ds = [];
  solid.forEach(line => ds.push({ data: toPoints(line), showLine: true, borderColor: '#000', borderWidth: 1.7,
    pointRadius: 0, tension: 0.25, fill: false }));
  dashed.forEach(line => ds.push({ data: toPoints(line), showLine: true, borderColor: '#000', borderWidth: 1.35,
    borderDash: [3, 2], pointRadius: 0, tension: 0.25, fill: false }));
  return ds;
}

for (let i = 0; i < 12; i++) {
  const r = Math.floor(i / 3), c = i % 3;
  const div = document.createElement('div');
  div.className = 'panel';
  div.style.left = (colPlotLeft[c] - AXIS_W * STRETCH) + 'px';
  div.style.top = (rowPlotTop[r] - PAD_T) + 'px';
  const cv = document.createElement('canvas');
  cv.width = CANVAS_W; cv.height = CANVAS_H;
  cv.style.width = CANVAS_W + 'px'; cv.style.height = CANVAS_H + 'px';
  div.appendChild(cv);
  document.body.appendChild(div);

  new Chart(cv, {
    type: 'scatter',
    data: { datasets: buildDatasets(panelSolid[i], panelDashed[i]) },
    options: {
      responsive: false, animation: false, devicePixelRatio: 1, events: [],
      layout: { padding: { top: PAD_T, right: PAD_R, bottom: 0, left: 0 } },
      plugins: { legend: { display: false }, tooltip: { enabled: false },
        frameAndLabels: { title: panelTitles[i], pct: explainedVariance[i] } },
      scales: {
        x: {
          type: 'linear', min: -90, max: 90, bounds: 'data',
          grid: { display: false, drawTicks: false }, border: { display: false },
          afterBuildTicks: s => { s.ticks = latTicks.map(v => ({ value: v })); },
          afterFit: s => { s.height = AXIS_H; },
          ticks: { autoSkip: false, maxRotation: 0, padding: 5, color: '#000',
            font: { family: FONT, size: 12 },
            callback: v => latLabels[latTicks.indexOf(v)] }
        },
        y: {
          type: 'logarithmic', min: 70, max: 1000, reverse: true, bounds: 'data',
          grid: { display: false, drawTicks: false }, border: { display: false },
          afterBuildTicks: s => { s.ticks = pressureTicks.map(v => ({ value: v })); },
          afterFit: s => { s.width = AXIS_W; },
          ticks: { autoSkip: false, padding: 6, color: '#000',
            font: { family: FONT, size: 12 },
            callback: v => String(v) }
        }
      }
    },
    plugins: [frameAndLabels]
  });
}
</script>
</body></html>
